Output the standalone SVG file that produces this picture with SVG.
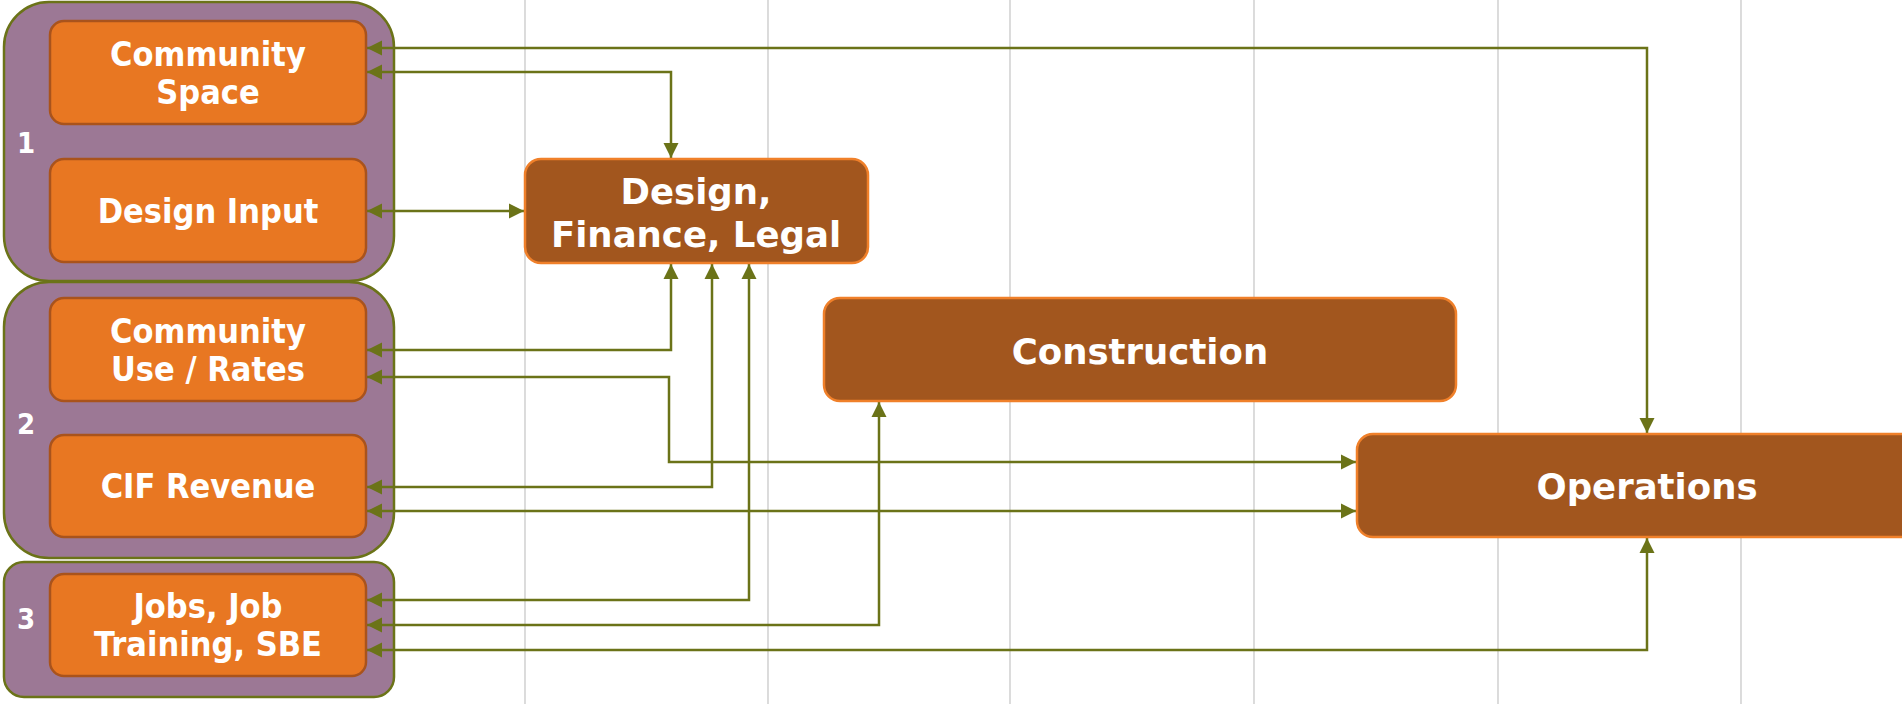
<svg xmlns="http://www.w3.org/2000/svg" width="1902" height="704" viewBox="0 0 1902 704">
<style>
.grid{stroke:#c4c4c4;stroke-width:1.2}
.grp{fill:#9c7895;stroke:#6b7318;stroke-width:2.5}
.ob{fill:#e87722;stroke:#a9531c;stroke-width:2.5}
.bb{fill:#a2561e;stroke:#f0802a;stroke-width:2.5}
.ot{fill:#fff;font-family:"DejaVu Sans Condensed","DejaVu Sans",sans-serif;font-stretch:condensed;font-weight:bold;font-size:34px;text-anchor:middle}
.bt{fill:#fff;font-family:"DejaVu Sans",Verdana,sans-serif;font-weight:bold;font-size:35.5px;text-anchor:middle}
.num{fill:#fff;font-family:"DejaVu Sans Condensed","DejaVu Sans",sans-serif;font-stretch:condensed;font-weight:bold;font-size:29px;text-anchor:middle}
.c{fill:none;stroke:#6b7318;stroke-width:2.5;marker-start:url(#ah);marker-end:url(#ah)}
</style>
<defs>
<marker id="ah" markerUnits="userSpaceOnUse" markerWidth="16" markerHeight="16" viewBox="0 0 16 16" refX="15" refY="8" orient="auto-start-reverse">
<path d="M0,0.5 L15,8 L0,15.5 Z" fill="#6b7318"/>
</marker>
</defs>
<rect width="1902" height="704" fill="#fff"/>
<g id="gridlines">
<line class="grid" x1="525" y1="0" x2="525" y2="704"/>
<line class="grid" x1="768" y1="0" x2="768" y2="704"/>
<line class="grid" x1="1010" y1="0" x2="1010" y2="704"/>
<line class="grid" x1="1254" y1="0" x2="1254" y2="704"/>
<line class="grid" x1="1498" y1="0" x2="1498" y2="704"/>
<line class="grid" x1="1741" y1="0" x2="1741" y2="704"/>
</g>
<g id="group1">
<rect class="grp" x="4" y="2" width="390" height="279" rx="45"/>
<text class="num" x="26" y="153">1</text>
</g>
<g id="group2">
<rect class="grp" x="4" y="282" width="390" height="276" rx="45"/>
<text class="num" x="26" y="434">2</text>
</g>
<g id="group3">
<rect class="grp" x="4" y="562" width="390" height="135" rx="20"/>
<text class="num" x="26" y="629">3</text>
</g>
<g id="connectors">
<path class="c" d="M367,48 H1647 V433"/>
<path class="c" d="M367,72 H671 V158"/>
<path class="c" d="M367,211 H524"/>
<path class="c" d="M367,350 H671 V264"/>
<path class="c" d="M367,377 H669 V462 H1356"/>
<path class="c" d="M367,487 H712 V264"/>
<path class="c" d="M367,511 H1356"/>
<path class="c" d="M367,600 H749 V264"/>
<path class="c" d="M367,625 H879 V402"/>
<path class="c" d="M367,650 H1647 V538"/>
</g>
<g id="community-space">
<rect class="ob" x="50" y="21" width="316" height="103" rx="14"/>
<text class="ot" x="208" y="66">Community</text>
<text class="ot" x="208" y="104">Space</text>
</g>
<g id="design-input">
<rect class="ob" x="50" y="159" width="316" height="103" rx="14"/>
<text class="ot" x="208" y="223">Design Input</text>
</g>
<g id="community-use-rates">
<rect class="ob" x="50" y="298" width="316" height="103" rx="14"/>
<text class="ot" x="208" y="343">Community</text>
<text class="ot" x="208" y="381">Use / Rates</text>
</g>
<g id="cif-revenue">
<rect class="ob" x="50" y="435" width="316" height="102" rx="14"/>
<text class="ot" x="208" y="498">CIF Revenue</text>
</g>
<g id="jobs">
<rect class="ob" x="50" y="574" width="316" height="102" rx="14"/>
<text class="ot" x="208" y="618">Jobs, Job</text>
<text class="ot" x="208" y="656">Training, SBE</text>
</g>
<g id="design-finance-legal">
<rect class="bb" x="525" y="159" width="343" height="104" rx="16"/>
<text class="bt" x="696" y="204">Design,</text>
<text class="bt" x="696" y="247">Finance, Legal</text>
</g>
<g id="construction">
<rect class="bb" x="824" y="298" width="632" height="103" rx="16"/>
<text class="bt" x="1140" y="364">Construction</text>
</g>
<g id="operations">
<rect class="bb" x="1357" y="434" width="580" height="103" rx="16"/>
<text class="bt" x="1647" y="499">Operations</text>
</g>
</svg>
